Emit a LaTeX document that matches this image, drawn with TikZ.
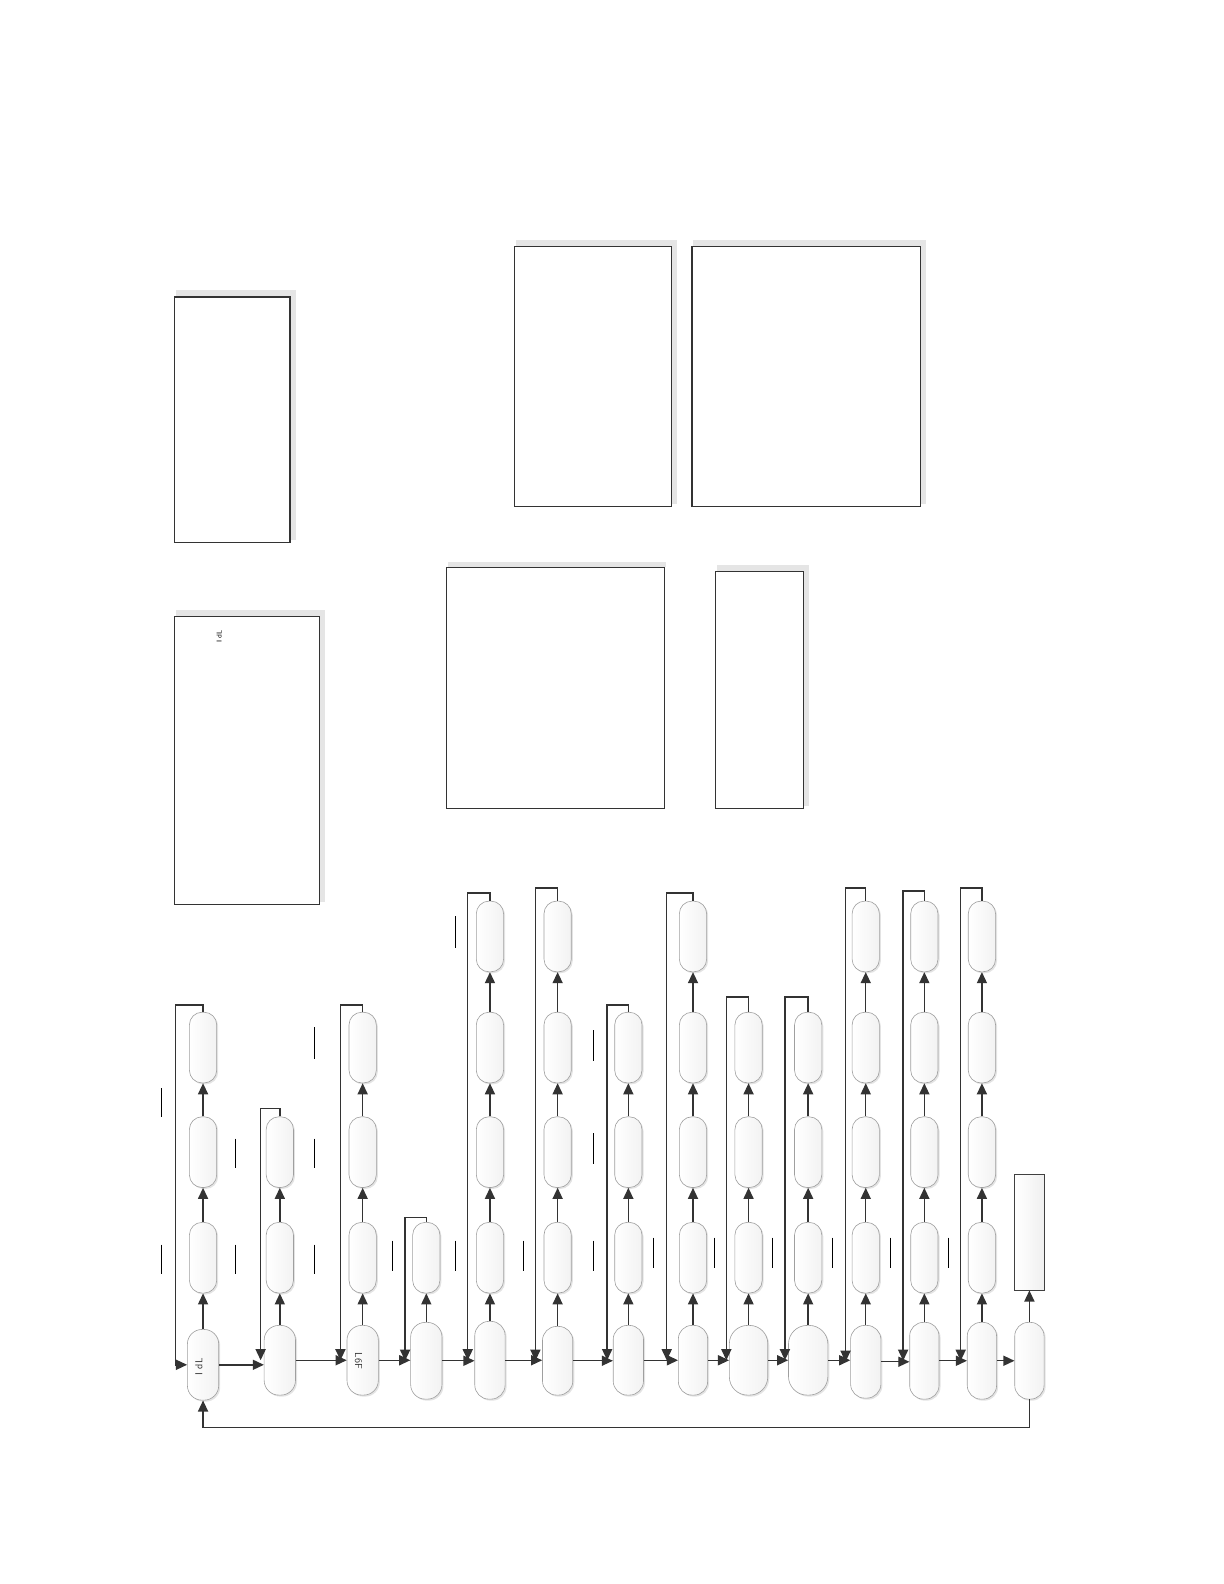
\documentclass[tikz,border=0pt]{standalone}
\usetikzlibrary{arrows.meta,shadows,backgrounds,calc}
\begin{document}
\begin{tikzpicture}[x=1pt,y=-1pt,
  conn/.style={draw=black!80, line width=1.4pt},
  arr/.style={conn, -{Triangle[length=11pt,width=10pt]}},
  pill/.style={draw=gray!75, line width=0.6pt, inner sep=0pt, left color=white, right color=gray!10,
     drop shadow={shadow xshift=1.5pt, shadow yshift=-1.5pt, opacity=0.22}},
  rectnode/.style={draw=black!75, line width=0.8pt, inner sep=0pt, left color=white, right color=gray!12},
  bigbox/.style={draw=black!80, line width=1.2pt, fill=white, inner sep=0pt},
  boxshadow/.style={fill=gray!20},
  tickbar/.style={draw=black, line width=0.8pt},
  lbl/.style={font=\sffamily\fontsize{10}{10}\selectfont, text=gray!40!black, inner sep=0pt}
]
\useasboundingbox (0,0) rectangle (1211.6,1568);

% ---------- upper boxes ----------
\node[bigbox, minimum width=114pt, minimum height=243pt] (bA) at (230,415.5) {};
\node[bigbox, minimum width=143pt, minimum height=285pt] (bB) at (244.5,752.5) {};
\node[bigbox, minimum width=156pt, minimum height=257pt] (bC) at (587,372.5) {};
\node[bigbox, minimum width=226pt, minimum height=257pt] (bD) at (798,372.5) {};
\node[bigbox, minimum width=216pt, minimum height=238pt] (bE) at (550,681) {};
\node[bigbox, minimum width=87pt, minimum height=234pt] (bF) at (751.5,683) {};
\begin{scope}[on background layer]
  \foreach \b in {bA,bB,bC,bD,bF}
    \fill[boxshadow] ($(\b.north west)+(2,-6)$) rectangle ($(\b.south east)+(5,-3)$);
  \fill[boxshadow] ($(bE.north west)+(2,-5)$) rectangle ($(bE.north east)+(1,0)$);
\end{scope}
\node[lbl, rotate=90, font=\sffamily\fontsize{7}{7}\selectfont, text=black] (tB) at (217,630) {I dL};

% ---------- main row ----------
\foreach \i/\cx/\w/\yt/\yb in {
  1/201/31/1316/1386, 2/277/31/1312/1381, 3/359/31/1312/1381, 4/422/31/1309/1385,
  5/485/30/1308/1385, 6/552/30/1313/1381, 7/622/30/1312/1381, 8/686/29/1312/1381,
  9/741/38/1312/1381, 10/800/39/1312/1381, 11/857/30/1312/1384, 12/915/29/1309/1385,
  13/972/29/1309/1385, 14/1019/29/1309/1385} {
  \pgfmathsetmacro\rc{\w/2-1}
  \pgfmathsetmacro\hh{\yb-\yt}
  \pgfmathsetmacro\yc{(\yt+\yb)/2}
  \node[pill, rounded corners=\rc pt, minimum width=\w pt, minimum height=\hh pt] (m\i) at (\cx,\yc) {};
}

% ---------- stacks and loops ----------
\foreach \i/\cx/\n/\lx/\lt in {
  1/201/3/174/995, 2/277/2/258/1097, 3/359/3/337/995, 4/422/1/401/1205,
  5/485/4/463/884, 6/552/4/530/879, 7/622/3/601/995, 8/686/4/660/884,
  9/741/3/719/987, 10/800/3/777/987, 11/857/4/837/879, 12/915/4/894/882,
  13/972/4/951/879} {
  \foreach \r in {1,...,\n} {
    \pgfmathsetmacro\yc{{1245,1140.5,1037,927}[\r-1]}
    \node[pill, rounded corners=12.5pt, minimum width=27pt, minimum height=70pt] (u\i x\r) at (\cx,\yc) {};
    \ifnum\r=1
      \draw[arr] (m\i) -- (u\i x\r);
    \else
      \pgfmathtruncatemacro\p{\r-1}
      \draw[arr] (u\i x\p) -- (u\i x\r);
    \fi
  }
  \coordinate (L\i) at (\lx,\lt);
  \ifnum\i=1
    \draw[arr] (u\i x\n.north) -- (u\i x\n.north |- L\i) -- (L\i) -- (L\i |- m\i.west) -- (m\i.west);
  \else
    \draw[arr] (u\i x\n.north) -- (u\i x\n.north |- L\i) -- (L\i) -- (L\i |- m\i.west);
  \fi
}

% ---------- horizontal flow ----------
\foreach \i [evaluate=\i as \j using int(\i+1)] in {1,...,13}
  \draw[arr] (m\i.east) -- (m\i.east -| m\j.west);

% ---------- end column ----------
\node[rectnode, minimum width=29pt, minimum height=114pt] (r14) at (1019,1220) {};
\draw[arr] (m14) -- (r14);
\coordinate (B) at (201,1413);
\draw[arr] (m14.south) |- (B) -- (m1.south);

% ---------- labels ----------
\node[lbl, rotate=90] (t1) at (197,1353) {I dL};
\node[lbl, rotate=-90] (t3) at (355,1347) {L6F};

% ---------- short vertical marks ----------
\foreach \x/\ya/\yb in {
  160/1077/1106, 160/1232/1261, 233/1127/1156, 233/1232/1261,
  311/1017/1048, 311/1127/1156, 311/1232/1261, 388/1228/1258,
  451/907/938, 451/1228/1258, 518/1228/1258, 587/1020/1050,
  587/1122/1152, 587/1228/1258, 647/1225/1255, 707/1225/1255,
  765/1225/1255, 824/1225/1255, 881/1225/1255, 939/1225/1255}
  \draw[tickbar] (\x,\ya) -- (\x,\yb);
\end{tikzpicture}
\end{document}
